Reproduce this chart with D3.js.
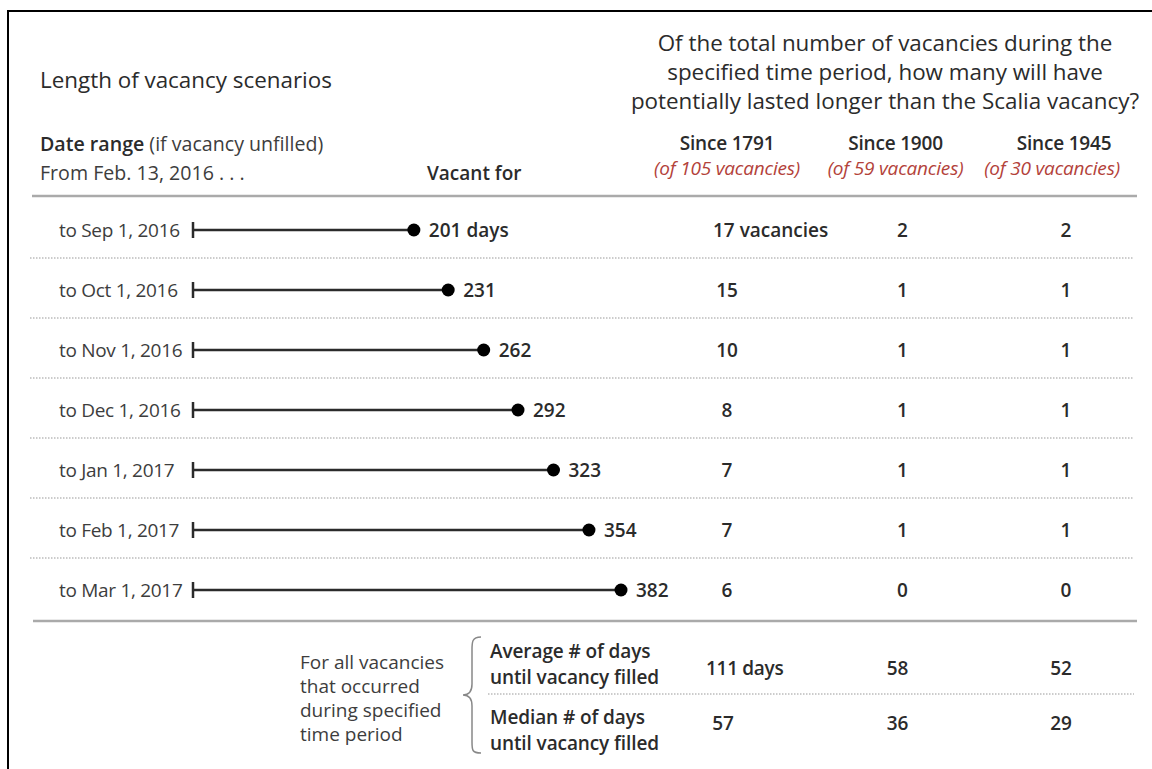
<!DOCTYPE html>
<html>
<head>
<meta charset="utf-8">
<script src="https://cdn.jsdelivr.net/npm/d3@7"></script>
<style>
  html, body { margin: 0; padding: 0; background: #fff; }
  svg { display: block; font-family: "Open Sans", Lato, "Noto Sans", sans-serif; }
</style>
</head>
<body>
<svg id="chart" width="1152" height="769"></svg>
<script>
// ---- data ----
const dateLabels = ["to Sep 1, 2016", "to Oct 1, 2016", "to Nov 1, 2016", "to Dec 1, 2016", "to Jan 1, 2017", "to Feb 1, 2017", "to Mar 1, 2017"];
const vacantDays = [201, 231, 262, 292, 323, 354, 382];
const since1791 = [17, 15, 10, 8, 7, 7, 6];
const since1900 = [2, 1, 1, 1, 1, 1, 0];
const since1945 = [2, 1, 1, 1, 1, 1, 0];
const columnHeaders = ["Since 1791", "Since 1900", "Since 1945"];
const columnSubheaders = ["(of 105 vacancies)", "(of 59 vacancies)", "(of 30 vacancies)"];
const summaryLabels = [["Average # of days", "until vacancy filled"], ["Median # of days", "until vacancy filled"]];
const averageDays = [111, 58, 52];
const medianDays = [57, 36, 29];
const titleLines = ["Of the total number of vacancies during the", "specified time period, how many will have", "potentially lasted longer than the Scalia vacancy?"];
const groupNote = ["For all vacancies", "that occurred", "during specified", "time period"];

const svg = d3.select("#chart");
const dark = "#2b2b2b", mid = "#3d3d3d", red = "#b3423a";
const fs = 19;

// frame
svg.append("line").attr("x1", 8).attr("x2", 1152).attr("y1", 11).attr("y2", 11).attr("stroke", "#000").attr("stroke-width", 2);
svg.append("line").attr("x1", 8).attr("x2", 8).attr("y1", 10).attr("y2", 769).attr("stroke", "#000").attr("stroke-width", 2);

// scales
const y = d3.scaleBand().domain(dateLabels).range([200, 620]).paddingInner(0);
const x = d3.scaleLinear().domain([8, 382]).range([193, 621]);
const col = d3.scalePoint().domain(columnHeaders).range([727, 1064]);

// headers left
svg.append("text").attr("x", 40).attr("y", 88).attr("font-size", 22.4).attr("fill", dark).text("Length of vacancy scenarios");
const dr = svg.append("text").attr("x", 40).attr("y", 151).attr("font-size", 19.6).attr("fill", mid);
dr.append("tspan").attr("font-weight", 600).attr("fill", dark).text("Date range");
dr.append("tspan").text(" (if vacancy unfilled)");
svg.append("text").attr("x", 40).attr("y", 180).attr("font-size", 19.6).attr("fill", mid).text("From Feb. 13, 2016 . . .");
svg.append("text").attr("x", 427).attr("y", 180).attr("font-size", fs).attr("font-weight", 600).attr("fill", dark).text("Vacant for");

// right title
svg.append("g").selectAll("text").data(titleLines).join("text")
  .attr("x", 885).attr("y", (d, i) => 51 + i * 29)
  .attr("text-anchor", "middle").attr("font-size", 22.4).attr("fill", dark).text(d => d);

// column headers
svg.append("g").selectAll("text").data(columnHeaders).join("text")
  .attr("x", d => col(d)).attr("y", 150).attr("text-anchor", "middle")
  .attr("font-size", fs).attr("font-weight", 600).attr("fill", dark).attr("letter-spacing", -0.2).text(d => d);
svg.append("g").selectAll("text").data(columnSubheaders).join("text")
  .attr("x", (d, i) => col(columnHeaders[i]) - (i === 2 ? 12 : 0)).attr("y", 175).attr("text-anchor", "middle")
  .attr("font-size", fs).attr("font-style", "italic").attr("fill", red).attr("letter-spacing", -0.2).text(d => d);

// rules
svg.append("line").attr("x1", 32).attr("x2", 1137).attr("y1", 196).attr("y2", 196).attr("stroke", "#aaa").attr("stroke-width", 2.5);
svg.append("line").attr("x1", 33).attr("x2", 1137).attr("y1", 621).attr("y2", 621).attr("stroke", "#aaa").attr("stroke-width", 2.5);

// row separators (dotted)
svg.append("g").selectAll("line").data(dateLabels.slice(0, -1)).join("line")
  .attr("x1", 30).attr("x2", 1134)
  .attr("y1", d => y(d) + y.bandwidth() - 2).attr("y2", d => y(d) + y.bandwidth() - 2)
  .attr("stroke", "#999").attr("stroke-width", 1).attr("stroke-dasharray", "1.5,1.5");

const rows = svg.append("g").selectAll("g").data(dateLabels).join("g")
  .attr("transform", d => `translate(0,${y(d) + y.bandwidth() / 2})`);

rows.append("text").attr("x", 59).attr("y", 7).attr("font-size", fs).attr("fill", mid).attr("letter-spacing", -0.3).text(d => d);
rows.append("line").attr("x1", x.range()[0]).attr("x2", x.range()[0]).attr("y1", -8).attr("y2", 8)
  .attr("stroke", dark).attr("stroke-width", 2.5);
rows.append("line").attr("x1", x.range()[0]).attr("x2", (d, i) => x(vacantDays[i])).attr("y1", 0).attr("y2", 0)
  .attr("stroke", dark).attr("stroke-width", 2.5);
rows.append("circle").attr("cx", (d, i) => x(vacantDays[i])).attr("cy", 0).attr("r", 6.5).attr("fill", "#000");
rows.append("text").attr("x", (d, i) => x(vacantDays[i]) + 15).attr("y", 7).attr("font-size", fs).attr("font-weight", 600)
  .attr("fill", dark).text((d, i) => i === 0 ? vacantDays[i] + " days" : vacantDays[i]);

const colData = [since1791, since1900, since1945];
const colOffsets = [0, 7, 2];
colData.forEach((arr, c) => {
  rows.append("text").attr("class", "num c" + c).attr("x", col(columnHeaders[c]) + colOffsets[c]).attr("y", 7).attr("text-anchor", "middle")
    .attr("font-size", fs).attr("font-weight", 600).attr("fill", dark)
    .text((d, i) => arr[i]);
});
// " vacancies" suffix on first row, first column
{
  const firstRow = rows.filter((d, i) => i === 0);
  const firstNum = firstRow.select("text.c0");
  const w = firstNum.node().getComputedTextLength();
  const left = col(columnHeaders[0]) - 14;
  firstNum.attr("text-anchor", "start").attr("x", left);
  firstRow.append("text").attr("x", left + w).attr("y", 7)
    .attr("font-size", fs).attr("font-weight", 600).attr("fill", dark).attr("xml:space", "preserve").text(" vacancies");
}

// bottom summary
svg.append("g").selectAll("text").data(groupNote).join("text")
  .attr("x", 300).attr("y", (d, i) => 669 + i * 24).attr("font-size", fs).attr("fill", mid).text(d => d);

// brace
svg.append("path")
  .attr("d", "M481,637 C472,637 472,642 472,650 L472,684 C472,691 469,695 463,695 C469,695 472,699 472,706 L472,742 C472,750 472,753 481,753")
  .attr("fill", "none").attr("stroke", "#888").attr("stroke-width", 1.5);

const sumY = [0, 1].map(i => 651 + i * 66);
summaryLabels.forEach((lines, i) => {
  lines.forEach((t, j) => {
    svg.append("text").attr("x", 490).attr("y", sumY[i] + 7 + j * 26).attr("font-size", fs).attr("font-weight", 600)
      .attr("fill", dark).attr("letter-spacing", -0.1).text(t);
  });
});
svg.append("line").attr("x1", 488).attr("x2", 1134).attr("y1", 694).attr("y2", 694)
  .attr("stroke", "#999").attr("stroke-width", 1).attr("stroke-dasharray", "1.5,1.5");

[averageDays, medianDays].forEach((arr, r) => {
  const yy = 675 + r * 55;
  arr.forEach((v, c) => {
    const cx = col(columnHeaders[c]);
    if (r === 0 && c === 0) {
      svg.append("text").attr("x", cx - 21).attr("y", yy).attr("font-size", fs).attr("font-weight", 600)
        .attr("fill", dark).attr("letter-spacing", -0.3).text(v + " days");
    } else {
      svg.append("text").attr("x", cx + (c === 0 ? -4 : (c === 1 ? 2 : -3))).attr("y", yy).attr("text-anchor", "middle")
        .attr("font-size", fs).attr("font-weight", 600).attr("fill", dark).text(v);
    }
  });
});
</script>
</body>
</html>
